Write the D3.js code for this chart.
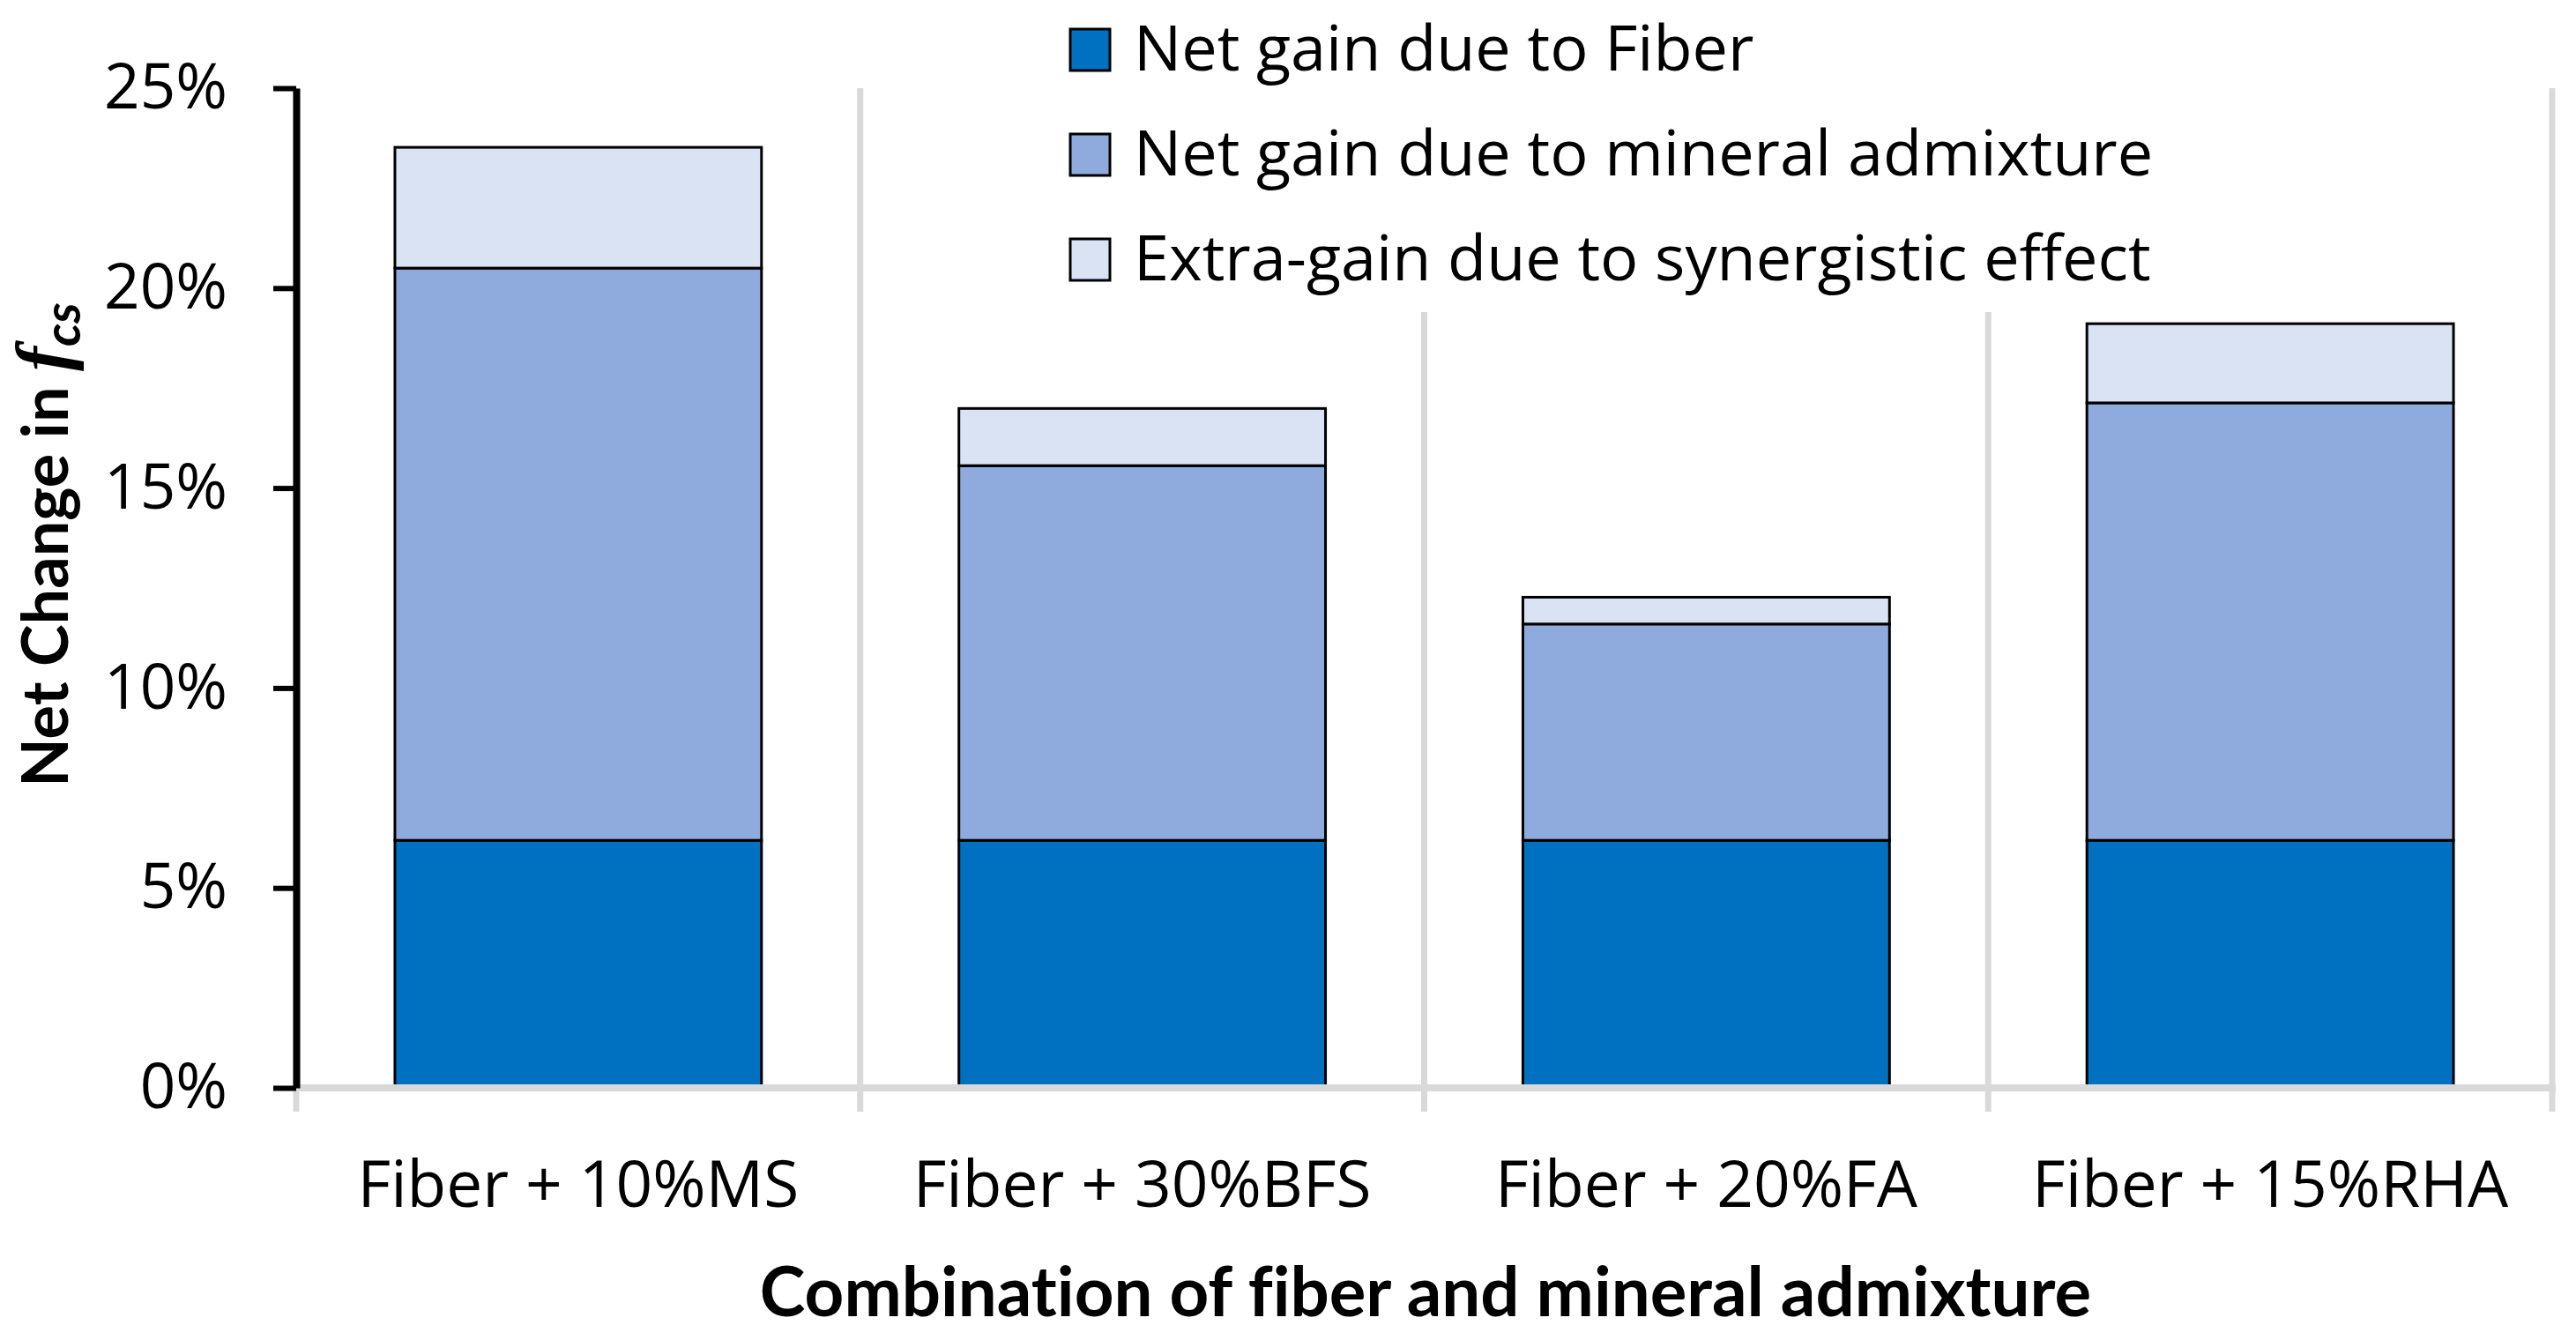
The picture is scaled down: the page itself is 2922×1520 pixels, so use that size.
<!DOCTYPE html>
<html>
<head>
<meta charset="utf-8">
<script src="https://cdn.jsdelivr.net/npm/d3@7"></script>
<style>
  html, body { margin: 0; padding: 0; background: #fff; }
  svg { display: block; }
  text { font-variant-ligatures: none; }
</style>
</head>
<body>
<svg id="chart" width="2922" height="1520"></svg>
<script>
// ---- data ----
const categories = ["Fiber + 10%MS", "Fiber + 30%BFS", "Fiber + 20%FA", "Fiber + 15%RHA"];
const seriesNames = ["Net gain due to Fiber", "Net gain due to mineral admixture", "Extra-gain due to synergistic effect"];
const fiberGain = [0.0619, 0.0619, 0.0619, 0.0619];
const mineralGain = [0.1431, 0.0937, 0.0541, 0.1094];
const synergyGain = [0.0302, 0.0143, 0.0067, 0.0198];
const yTicks = [0, 0.05, 0.10, 0.15, 0.20, 0.25];
const colors = ["#0070C0", "#8FAADC", "#DAE3F3"];

// ---- layout ----
const svg = d3.select("#chart");
const plotLeft = 336, plotRight = 2895, plotTop = 100, plotBottom = 1234;

const table = categories.map((c, i) => ({ cat: c, s0: fiberGain[i], s1: mineralGain[i], s2: synergyGain[i] }));
const stacked = d3.stack().keys(["s0", "s1", "s2"])(table);

const x = d3.scaleBand().domain(categories).range([plotLeft, plotRight]).paddingInner(0.35).paddingOuter(0.175);
const y = d3.scaleLinear().domain([0, 0.25]).range([plotBottom, plotTop]);

const gridGray = "#D9D9D9";

// vertical gridlines at category boundaries
const bounds = d3.range(categories.length + 1).map(i => x.range()[0] + i * x.step());
svg.append("g").selectAll("line").data(bounds).join("line")
  .attr("x1", d => d).attr("x2", d => d)
  .attr("y1", y(0.25)).attr("y2", plotBottom + 27)
  .attr("stroke", gridGray).attr("stroke-width", 7);

// bars
svg.append("g").selectAll("g").data(stacked).join("g")
  .attr("fill", (d, i) => colors[i])
  .selectAll("rect").data(d => d).join("rect")
  .attr("x", d => x(d.data.cat))
  .attr("width", x.bandwidth())
  .attr("y", d => y(d[1]))
  .attr("height", d => y(d[0]) - y(d[1]))
  .attr("stroke", "#000").attr("stroke-width", 3);

// x axis baseline
svg.append("line")
  .attr("x1", plotLeft).attr("x2", plotRight + 4)
  .attr("y1", plotBottom).attr("y2", plotBottom)
  .attr("stroke", gridGray).attr("stroke-width", 8);

// category labels
svg.append("g").selectAll("text").data(categories).join("text")
  .attr("x", d => x(d) + x.bandwidth() / 2)
  .attr("y", 1369)
  .attr("text-anchor", "middle")
  .attr("font-family", "'Open Sans', sans-serif")
  .attr("font-size", 73)
  .attr("fill", "#000")
  .text(d => d);

// y axis
const yAxis = d3.axisLeft(y).tickValues(yTicks).tickFormat(d3.format(".0%"))
  .tickSize(26).tickSizeOuter(0).tickPadding(52);
const gy = svg.append("g").attr("transform", `translate(${plotLeft},0)`).call(yAxis);
gy.select(".domain").attr("stroke", "#000").attr("stroke-width", 8);
gy.selectAll(".tick line").attr("stroke", "#000").attr("stroke-width", 6);
gy.selectAll(".tick text")
  .attr("font-family", "'Open Sans', sans-serif")
  .attr("font-size", 71)
  .attr("fill", "#000");

// legend (white background covers gridlines)
const lg = svg.append("g");
lg.append("rect").attr("x", 1190).attr("y", 0).attr("width", 1300).attr("height", 354).attr("fill", "#fff");
const rows = lg.selectAll("g.row").data(seriesNames).join("g").attr("class", "row")
  .attr("transform", (d, i) => `translate(1214, ${33 + i * 119})`);
rows.append("rect").attr("width", 45).attr("height", 47)
  .attr("fill", (d, i) => colors[i]).attr("stroke", "#000").attr("stroke-width", 3);
rows.append("text").attr("x", 72).attr("y", 47)
  .attr("font-family", "'Open Sans', sans-serif")
  .attr("font-size", 72)
  .attr("fill", "#000")
  .text(d => d);

// x axis title
svg.append("text")
  .attr("x", 1617).attr("y", 1493)
  .attr("text-anchor", "middle")
  .attr("font-family", "Lato, sans-serif")
  .attr("font-weight", "bold")
  .attr("font-size", 78)
  .text("Combination of fiber and mineral admixture");

// y axis title
const yt = svg.append("text")
  .attr("transform", `translate(77, 618) rotate(-90)`)
  .attr("text-anchor", "middle")
  .attr("font-family", "Lato, sans-serif")
  .attr("font-weight", "bold")
  .attr("font-size", 72);
yt.append("tspan").text("Net Change in ");
yt.append("tspan").attr("font-family", "'Liberation Serif', serif").attr("font-style", "italic").attr("font-size", 84).text("f");
yt.append("tspan").attr("font-style", "italic").attr("font-size", 58).attr("dy", 14).text("cs");
</script>
</body>
</html>
